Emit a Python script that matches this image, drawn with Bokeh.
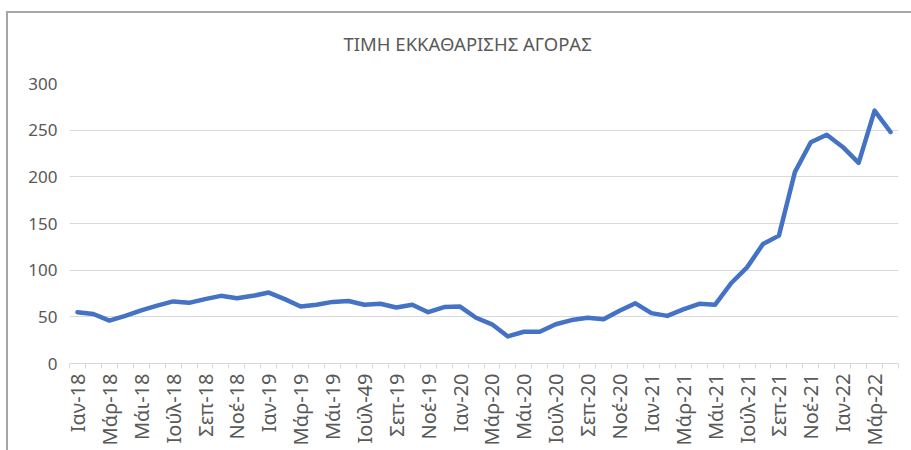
from bokeh.plotting import figure
from bokeh.models import Range1d, FixedTicker, InlineStyleSheet
from bokeh.embed import file_html
from bokeh.resources import INLINE
import math

# Monthly clearing price, Jan-2018 .. Apr-2022
values_2018 = [55, 53, 46, 51, 57, 62, 66.5, 65, 69, 72.5, 70, 72.5]
values_2019 = [76, 69, 61, 63, 66, 67, 63, 64, 60, 63, 55, 60.5]
values_2020 = [61, 49, 42, 29, 34, 34, 42, 46.5, 49, 47.5, 56.5, 64.5]
values_2021 = [54, 51, 58, 64, 63, 86, 103, 128, 137, 205, 237, 245]
values_2022 = [232, 215, 271, 248]
values = values_2018 + values_2019 + values_2020 + values_2021 + values_2022

tick_labels = ["Ιαν-18", "Μάρ-18", "Μάι-18", "Ιούλ-18", "Σεπ-18", "Νοέ-18",
               "Ιαν-19", "Μάρ-19", "Μάι-19", "Ιούλ-49", "Σεπ-19", "Νοέ-19",
               "Ιαν-20", "Μάρ-20", "Μάι-20", "Ιούλ-20", "Σεπ-20", "Νοέ-20",
               "Ιαν-21", "Μάρ-21", "Μάι-21", "Ιούλ-21", "Σεπ-21", "Νοέ-21",
               "Ιαν-22", "Μάρ-22"]
y_ticks = [0, 50, 100, 150, 200, 250, 300]
title_text = "ΤΙΜΗ ΕΚΚΑΘΑΡΙΣΗΣ ΑΓΟΡΑΣ"

n = len(values)
xs = list(range(n))

FONT = "Noto Sans"
GREY_TXT = "#595959"
GRID = "#d9d9d9"

p = figure(width=903, height=450, output_backend="svg", toolbar_location=None,
           x_range=Range1d(-0.5, n - 0.5), y_range=Range1d(0, 300),
           min_border_left=69, min_border_right=5, min_border_top=82,
           min_border_bottom=87)
p.outline_line_color = None
p.background_fill_color = "white"
p.border_fill_color = "white"

# chart-area border (top and left edges visible)
p.stylesheets = [InlineStyleSheet(css="""
:host::after {
  content: "";
  position: absolute;
  left: 6px; top: 11px; right: -20px; bottom: -20px;
  border-top: 2px solid #a6a6a6;
  border-left: 2px solid #a6a6a6;
  pointer-events: none;
  z-index: 10;
}
""")]

# title
p.title.text = title_text
p.title.align = "left"
p.title.offset = 274
p.title.text_font = FONT
p.title.text_font_size = "18.5px"
p.title.text_font_style = "normal"
p.title.text_color = GREY_TXT
p.title.standoff = 56

# y axis
p.yaxis.ticker = FixedTicker(ticks=y_ticks)
p.yaxis.axis_line_color = None
p.yaxis.major_tick_line_color = None
p.yaxis.minor_tick_line_color = None
p.yaxis.major_tick_out = 0
p.yaxis.major_tick_in = 0
p.yaxis.major_label_standoff = 12
p.yaxis.major_label_text_font = FONT
p.yaxis.major_label_text_font_size = "17px"
p.yaxis.major_label_text_color = GREY_TXT

# x axis: labels every second month, tick marks between months
label_pos = list(range(0, n, 2))
p.xaxis.ticker = FixedTicker(ticks=label_pos,
                             minor_ticks=[i - 0.5 for i in range(n + 1)])
p.xaxis.major_label_overrides = {pos: lab for pos, lab in zip(label_pos, tick_labels)}
p.xaxis.major_label_orientation = math.pi / 2
p.xaxis.axis_line_color = GRID
p.xaxis.axis_line_width = 1
p.xaxis.major_tick_line_color = None
p.xaxis.major_tick_out = 0
p.xaxis.major_tick_in = 0
p.xaxis.minor_tick_line_color = GRID
p.xaxis.minor_tick_out = 5
p.xaxis.minor_tick_in = 0
p.xaxis.major_label_standoff = 5
p.xaxis.major_label_text_font = FONT
p.xaxis.major_label_text_font_size = "20px"
p.xaxis.major_label_text_color = GREY_TXT

p.xgrid.grid_line_color = None
p.ygrid.grid_line_color = GRID
p.ygrid.grid_line_width = 1

p.line(xs, values, line_color="#4472C4", line_width=4.5, line_join="round", line_cap="round")

open("out.html", "w").write(file_html(p, INLINE))
